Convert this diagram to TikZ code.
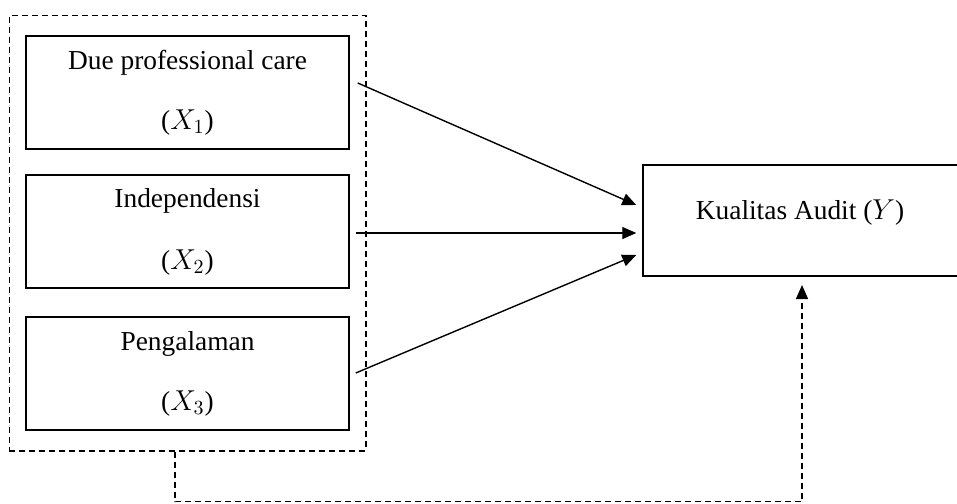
\documentclass[tikz,border=0pt]{standalone}
\usepackage{fontspec}
\setmainfont{Liberation Serif}
\usetikzlibrary{fit,arrows.meta,calc}

\begin{document}
\begin{tikzpicture}[x=0.5pt,y=-0.5pt,
varbox/.style={draw,line width=0.75pt,minimum width=161.5pt,minimum height=56.5pt,
  align=center,font=\fontsize{13.7}{30}\selectfont},
panah/.style={-{Triangle[length=7pt,width=6pt]},line width=0.7pt},
putus/.style={draw,dash pattern=on 3pt off 2pt,line width=0.75pt}]
%\draw[help lines] (0,0) grid[step=50] (957,503);
\useasboundingbox (0,0) rectangle (957,503);

\node[varbox] (x1) at (187.5,92.5) {Due professional care\\($X_1$)};
\node[varbox] (x2) at (187.5,231.5) {Independensi\\[1pt]($X_2$)};
\node[varbox] (x3) at (187.5,373.5) {Pengalaman\\($X_3$)};

\node[draw,line width=0.75pt,minimum width=157.5pt,minimum height=55.5pt] (y) at (800.5,220.5) {};
\node[font=\fontsize{13.7}{16}\selectfont] (ytext) at (800,213) {Kualitas Audit ($Y$)};

\node[putus,fit=(x1)(x2)(x3),inner xsep=8pt,inner ysep=10pt] (grup) {};

\draw[panah] ([shift={(8,-9.5)}]x1.east) -- ([shift={(-6,-15.5)}]y.west);
\draw[panah] ([shift={(6,1.5)}]x2.east) -- ([shift={(-6,12.5)}]y.west);
\draw[panah] ([shift={(6,-0.5)}]x3.east) -- ([shift={(-6,34.5)}]y.west);

\coordinate (bawah) at (175,501.5);
\coordinate (ujung) at (802,285);
\draw[putus,panah] (grup.south -| bawah) -- (bawah) -| (ujung);
\end{tikzpicture}
\end{document}
